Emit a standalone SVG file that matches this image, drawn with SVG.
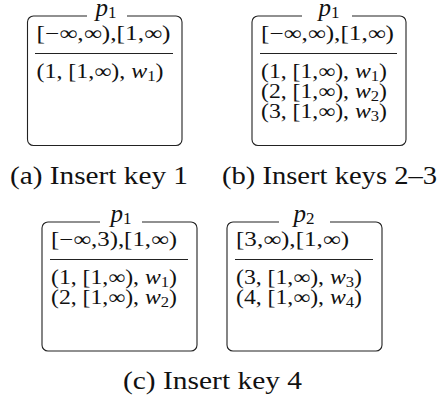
<svg xmlns="http://www.w3.org/2000/svg" width="439" height="402" viewBox="0 0 439 402">
<style>
.box{fill:none;stroke:#222;stroke-width:1.1}
.sep{stroke:#222;stroke-width:1.1}
text{font-family:"Liberation Serif","DejaVu Serif",serif;fill:#111}
.t{font-size:20px}
.cap{font-size:25px}
.ttl{font-size:25px;text-anchor:middle}
.i{font-style:italic}
.sub{font-size:14px}
.tsub{font-size:17px}
</style>
<rect width="439" height="402" fill="#fff"/>
<g id="connectors"/>
<g id="node-a">
<path class="box" d="M127,16 H176 A6,6 0 0 1 182,22 V139.5 A6,6 0 0 1 176,145.5 H33.5 A6,6 0 0 1 27.5,139.5 V22 A6,6 0 0 1 33.5,16 H87"/>
<text class="ttl" x="106" y="16"><tspan class="i">p</tspan><tspan class="tsub" dy="2">1</tspan></text>
<text class="t" x="36.5" y="40" textLength="134" lengthAdjust="spacingAndGlyphs">[−∞,∞),[1,∞)</text>
<line class="sep" x1="35" y1="53.5" x2="173" y2="53.5"/>
<text class="t" x="36.5" y="78" textLength="127" lengthAdjust="spacingAndGlyphs">(1, [1,∞), <tspan class="i">w</tspan><tspan class="sub" dy="3">1</tspan><tspan dy="-3">)</tspan></text>
</g>
<g id="node-b">
<path class="box" d="M352,16 H400 A6,6 0 0 1 406,22 V139.5 A6,6 0 0 1 400,145.5 H258 A6,6 0 0 1 252,139.5 V22 A6,6 0 0 1 258,16 H302"/>
<text class="ttl" x="329" y="16"><tspan class="i">p</tspan><tspan class="tsub" dy="2">1</tspan></text>
<text class="t" x="261" y="40" textLength="133" lengthAdjust="spacingAndGlyphs">[−∞,∞),[1,∞)</text>
<line class="sep" x1="260" y1="53.5" x2="397" y2="53.5"/>
<text class="t" x="261" y="78" textLength="126" lengthAdjust="spacingAndGlyphs">(1, [1,∞), <tspan class="i">w</tspan><tspan class="sub" dy="3">1</tspan><tspan dy="-3">)</tspan></text>
<text class="t" x="261" y="98" textLength="126" lengthAdjust="spacingAndGlyphs">(2, [1,∞), <tspan class="i">w</tspan><tspan class="sub" dy="3">2</tspan><tspan dy="-3">)</tspan></text>
<text class="t" x="261" y="118" textLength="126" lengthAdjust="spacingAndGlyphs">(3, [1,∞), <tspan class="i">w</tspan><tspan class="sub" dy="3">3</tspan><tspan dy="-3">)</tspan></text>
</g>
<text class="cap" x="10" y="184" textLength="178" lengthAdjust="spacingAndGlyphs">(a) Insert key 1</text>
<text class="cap" x="222" y="184" textLength="215" lengthAdjust="spacingAndGlyphs">(b) Insert keys 2–3</text>
<g id="node-c1">
<path class="box" d="M142,222 H191 A6,6 0 0 1 197,228 V345 A6,6 0 0 1 191,351 H48 A6,6 0 0 1 42,345 V228 A6,6 0 0 1 48,222 H100"/>
<text class="ttl" x="121" y="222"><tspan class="i">p</tspan><tspan class="tsub" dy="2">1</tspan></text>
<text class="t" x="51" y="246" textLength="126" lengthAdjust="spacingAndGlyphs">[−∞,3),[1,∞)</text>
<line class="sep" x1="50" y1="259.5" x2="188" y2="259.5"/>
<text class="t" x="51" y="284" textLength="126" lengthAdjust="spacingAndGlyphs">(1, [1,∞), <tspan class="i">w</tspan><tspan class="sub" dy="3">1</tspan><tspan dy="-3">)</tspan></text>
<text class="t" x="51" y="304" textLength="126" lengthAdjust="spacingAndGlyphs">(2, [1,∞), <tspan class="i">w</tspan><tspan class="sub" dy="3">2</tspan><tspan dy="-3">)</tspan></text>
</g>
<g id="node-c2">
<path class="box" d="M330,222 H376 A6,6 0 0 1 382,228 V345 A6,6 0 0 1 376,351 H233 A6,6 0 0 1 227,345 V228 A6,6 0 0 1 233,222 H279"/>
<text class="ttl" x="304" y="222"><tspan class="i">p</tspan><tspan class="tsub" dy="2">2</tspan></text>
<text class="t" x="236" y="246" textLength="113" lengthAdjust="spacingAndGlyphs">[3,∞),[1,∞)</text>
<line class="sep" x1="235" y1="259.5" x2="373" y2="259.5"/>
<text class="t" x="236" y="284" textLength="126" lengthAdjust="spacingAndGlyphs">(3, [1,∞), <tspan class="i">w</tspan><tspan class="sub" dy="3">3</tspan><tspan dy="-3">)</tspan></text>
<text class="t" x="236" y="304" textLength="126" lengthAdjust="spacingAndGlyphs">(4, [1,∞), <tspan class="i">w</tspan><tspan class="sub" dy="3">4</tspan><tspan dy="-3">)</tspan></text>
</g>
<text class="cap" x="123" y="389" textLength="179" lengthAdjust="spacingAndGlyphs">(c) Insert key 4</text>
</svg>
